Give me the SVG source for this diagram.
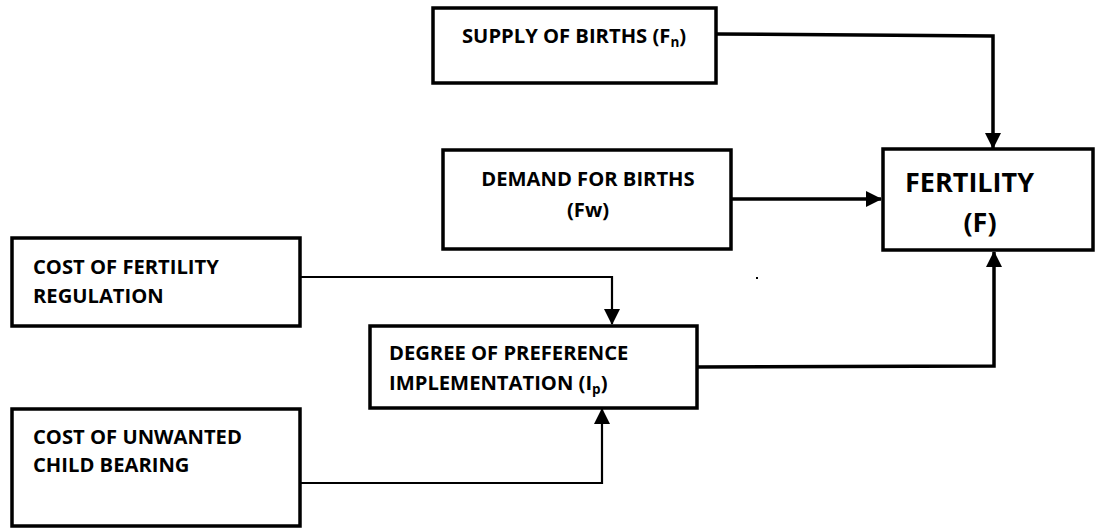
<svg xmlns="http://www.w3.org/2000/svg" width="1096" height="529" viewBox="0 0 1096 529">
<style>
.box{fill:#fff;stroke:#000;stroke-width:3.5}
.t{font-family:"Open Sans","Liberation Sans",sans-serif;font-weight:bold;font-size:20.2px;fill:#000}
.big{font-size:27px}
.sub{font-size:13.5px}
.c{fill:none;stroke:#000;stroke-linejoin:miter}
.thick{stroke-width:3.5}
.thin{stroke-width:2.2}
</style>
<defs>
<marker id="ah" markerUnits="userSpaceOnUse" viewBox="0 0 16 16" markerWidth="16" markerHeight="16" refX="15" refY="8" orient="auto">
<path d="M0,0 L16,8 L0,16 Z" fill="#000"/>
</marker>
</defs>
<rect width="1096" height="529" fill="#fff"/>
<g id="connectors">
<path class="c thick" d="M716,34 L993,36 L993,148" marker-end="url(#ah)"/>
<path class="c thick" d="M731,199 L881,199" marker-end="url(#ah)"/>
<path class="c thin" d="M300,277 L612,277 L612,324" marker-end="url(#ah)"/>
<path class="c thick" d="M697,367 L994,366 L994,252" marker-end="url(#ah)"/>
<path class="c thin" d="M298,483 L602,483 L602,409" marker-end="url(#ah)"/>
</g>
<g id="supply">
<rect class="box" x="433" y="8" width="283" height="75"/>
<text class="t" x="462" y="43">SUPPLY OF BIRTHS (F<tspan class="sub" dy="4">n</tspan><tspan dy="-4">)</tspan></text>
</g>
<g id="demand">
<rect class="box" x="443" y="150" width="288" height="99"/>
<text class="t" x="588" y="186" text-anchor="middle">DEMAND FOR BIRTHS</text>
<text class="t" x="588" y="217" text-anchor="middle">(Fw)</text>
</g>
<g id="fertility">
<rect class="box" x="883" y="149" width="210" height="101"/>
<text class="t big" x="905" y="192">FERTILITY</text>
<text class="t big" x="980" y="232" text-anchor="middle">(F)</text>
</g>
<g id="cost-regulation">
<rect class="box" x="12" y="238" width="288" height="88"/>
<text class="t" x="33" y="274">COST OF FERTILITY</text>
<text class="t" x="33" y="303">REGULATION</text>
</g>
<g id="degree">
<rect class="box" x="370" y="326" width="327" height="82"/>
<text class="t" x="389" y="360">DEGREE OF PREFERENCE</text>
<text class="t" x="389" y="390">IMPLEMENTATION (I<tspan class="sub" dy="4">p</tspan><tspan dy="-4">)</tspan></text>
</g>
<g id="cost-unwanted">
<rect class="box" x="12" y="409" width="288" height="117"/>
<text class="t" x="33" y="444">COST OF UNWANTED</text>
<text class="t" x="33" y="472">CHILD BEARING</text>
</g>
<rect x="756" y="277" width="2" height="2" fill="#000"/>
</svg>
